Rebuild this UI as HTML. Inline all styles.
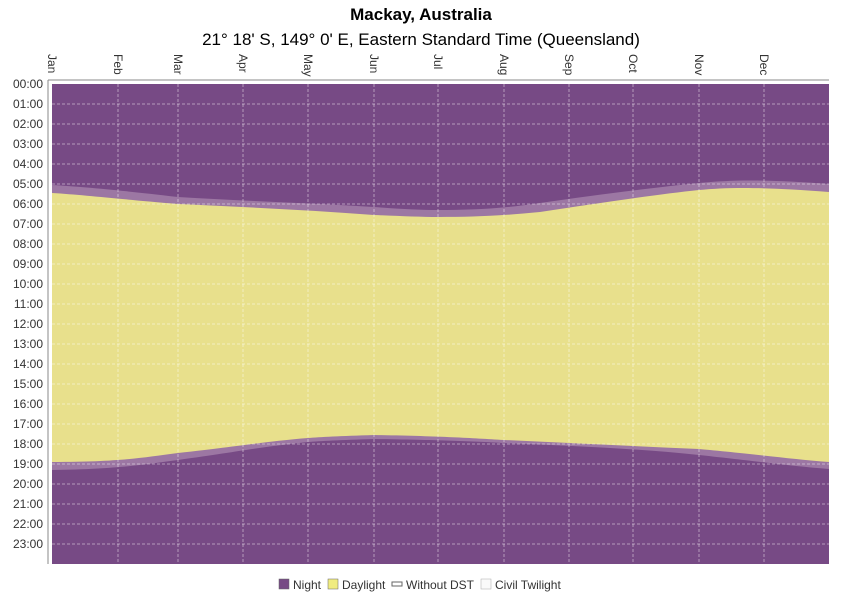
<!DOCTYPE html>
<html><head><meta charset="utf-8"><style>
body{margin:0;background:#fff;}
svg text{font-family:"Liberation Sans",sans-serif;}
</style></head><body>
<svg width="842" height="595" xmlns="http://www.w3.org/2000/svg">
<rect width="842" height="595" fill="#fff"/>
<text x="421" y="20" font-size="17" font-weight="bold" text-anchor="middle">Mackay, Australia</text>
<text x="421" y="45" font-size="17" text-anchor="middle">21° 18' S, 149° 0' E, Eastern Standard Time (Queensland)</text>
<rect x="52" y="84" width="777" height="480" fill="#774a85"/>
<!-- twilight band -->
<path id="tw" fill="#9c77a3" d="M52,185 C85,187 118,190 178,197 C243,201 308,203 374,207 C400,209 420,210 438,210 C470,210 500,209 540,203 C600,194 660,187 699,183 C730,180 764,179 829,184 L829,469 C790,466 764,462 699,455 C633,448 569,446 504,443 C470,441 438,440 374,439 C340,440 320,441 308,442 C260,447 243,451 178,460 C140,465 118,469 52,470 Z"/>
<path fill="#e8e08c" d="M52,193 C85,195 118,199 178,204 C243,207 308,210 374,215 C400,216 420,217 438,217 C470,217 500,216 540,212 C600,203 660,194 699,190 C730,187 764,187 829,192 L829,462 C790,459 764,455 699,449 C633,446 569,443 504,440 C470,438 438,436 374,435 C340,436 320,437 308,438 C260,442 243,446 178,453 C140,458 118,462 52,462 Z"/>
<g stroke="#fff" stroke-opacity="0.45" stroke-dasharray="3,2" stroke-width="1">
<line x1="52" x2="829" y1="104" y2="104"/><line x1="52" x2="829" y1="124" y2="124"/><line x1="52" x2="829" y1="144" y2="144"/><line x1="52" x2="829" y1="164" y2="164"/><line x1="52" x2="829" y1="184" y2="184"/><line x1="52" x2="829" y1="204" y2="204"/><line x1="52" x2="829" y1="224" y2="224"/><line x1="52" x2="829" y1="244" y2="244"/><line x1="52" x2="829" y1="264" y2="264"/><line x1="52" x2="829" y1="284" y2="284"/><line x1="52" x2="829" y1="304" y2="304"/><line x1="52" x2="829" y1="324" y2="324"/><line x1="52" x2="829" y1="344" y2="344"/><line x1="52" x2="829" y1="364" y2="364"/><line x1="52" x2="829" y1="384" y2="384"/><line x1="52" x2="829" y1="404" y2="404"/><line x1="52" x2="829" y1="424" y2="424"/><line x1="52" x2="829" y1="444" y2="444"/><line x1="52" x2="829" y1="464" y2="464"/><line x1="52" x2="829" y1="484" y2="484"/><line x1="52" x2="829" y1="504" y2="504"/><line x1="52" x2="829" y1="524" y2="524"/><line x1="52" x2="829" y1="544" y2="544"/>
<line y1="84" y2="564" x1="118" x2="118"/><line y1="84" y2="564" x1="178" x2="178"/><line y1="84" y2="564" x1="243" x2="243"/><line y1="84" y2="564" x1="308" x2="308"/><line y1="84" y2="564" x1="374" x2="374"/><line y1="84" y2="564" x1="438" x2="438"/><line y1="84" y2="564" x1="504" x2="504"/><line y1="84" y2="564" x1="569" x2="569"/><line y1="84" y2="564" x1="633" x2="633"/><line y1="84" y2="564" x1="699" x2="699"/><line y1="84" y2="564" x1="764" x2="764"/>
</g>
<line x1="48" y1="80" x2="829" y2="80" stroke="#888"/>
<line x1="48" y1="80" x2="48" y2="564" stroke="#888"/>
<g font-size="12" text-anchor="end" fill="#333">
<text x="43" y="88">00:00</text><text x="43" y="108">01:00</text><text x="43" y="128">02:00</text><text x="43" y="148">03:00</text><text x="43" y="168">04:00</text><text x="43" y="188">05:00</text><text x="43" y="208">06:00</text><text x="43" y="228">07:00</text><text x="43" y="248">08:00</text><text x="43" y="268">09:00</text><text x="43" y="288">10:00</text><text x="43" y="308">11:00</text><text x="43" y="328">12:00</text><text x="43" y="348">13:00</text><text x="43" y="368">14:00</text><text x="43" y="388">15:00</text><text x="43" y="408">16:00</text><text x="43" y="428">17:00</text><text x="43" y="448">18:00</text><text x="43" y="468">19:00</text><text x="43" y="488">20:00</text><text x="43" y="508">21:00</text><text x="43" y="528">22:00</text><text x="43" y="548">23:00</text>
</g>
<g font-size="12" fill="#333">
<text transform="translate(48,54) rotate(90)">Jan</text>
<text transform="translate(114,54) rotate(90)">Feb</text>
<text transform="translate(174,54) rotate(90)">Mar</text>
<text transform="translate(239,54) rotate(90)">Apr</text>
<text transform="translate(304,54) rotate(90)">May</text>
<text transform="translate(370,54) rotate(90)">Jun</text>
<text transform="translate(434,54) rotate(90)">Jul</text>
<text transform="translate(500,54) rotate(90)">Aug</text>
<text transform="translate(565,54) rotate(90)">Sep</text>
<text transform="translate(629,54) rotate(90)">Oct</text>
<text transform="translate(695,54) rotate(90)">Nov</text>
<text transform="translate(760,54) rotate(90)">Dec</text>
</g>
<g font-size="12" fill="#333">
<rect x="279" y="579" width="10" height="10" fill="#774a85" stroke="#666" stroke-width="0.5"/><text x="293" y="589">Night</text>
<rect x="328" y="579" width="10" height="10" fill="#f0ec80" stroke="#666" stroke-width="0.5"/><text x="342" y="589">Daylight</text>
<rect x="392" y="582" width="10" height="4" fill="#fff" stroke="#666"/><text x="406" y="589">Without DST</text>
<rect x="481" y="579" width="10" height="10" fill="#fafafa" stroke="#aaa" stroke-width="0.5"/><text x="495" y="589">Civil Twilight</text>
</g>
</svg>
</body></html>
